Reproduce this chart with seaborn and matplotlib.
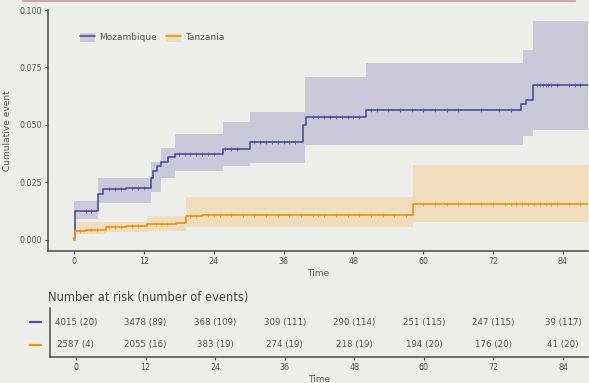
import numpy as np
import pandas as pd
import seaborn as sns
import matplotlib.pyplot as plt
from matplotlib.lines import Line2D
from matplotlib.patches import Patch

# Cumulative incidence step curves (months, cumulative event)
moz_t = [0, 0.2, 4.2, 5.0, 9.0, 13.2, 13.6, 14.2, 15.0, 16.2, 17.3, 25.6, 30.2, 39.4, 39.8, 50.2, 76.8, 77.6, 78.8, 88.3]
moz_v = [0.001, 0.0127, 0.020, 0.022, 0.0225, 0.027, 0.030, 0.032, 0.034, 0.036, 0.0375, 0.0395, 0.0428, 0.050, 0.0536, 0.0565, 0.059, 0.061, 0.0674, 0.0674]
moz_band_t = [0, 4.2, 13.2, 15.0, 17.3, 25.6, 30.2, 39.6, 50.2, 77.2, 78.8, 88.3]
moz_lo = [0.009, 0.016, 0.021, 0.027, 0.030, 0.032, 0.0333, 0.0413, 0.0415, 0.045, 0.0478, 0.0478]
moz_hi = [0.017, 0.027, 0.034, 0.040, 0.046, 0.0514, 0.0558, 0.071, 0.0768, 0.0826, 0.0953, 0.0953]
moz_cens = [2, 3, 6, 7, 8, 10, 11, 12, 18, 19, 20, 21, 22, 23, 24, 26, 27, 28, 31, 32, 33, 34, 35, 36,
            37, 38, 41, 42, 43, 44, 45, 46, 47, 48, 49, 51, 52, 54, 56, 58, 60, 62, 64, 66, 70, 73, 75,
            79.5, 80, 80.5, 81, 81.5, 82, 83, 85, 86, 87]

tza_t = [0, 0.2, 2.0, 5.5, 9.0, 12.5, 17.5, 19.3, 22.0, 58.2, 88.3]
tza_v = [0.0, 0.004, 0.0045, 0.0055, 0.006, 0.0068, 0.0075, 0.0105, 0.0107, 0.0155, 0.0155]
tza_band_t = [0, 5.5, 12.5, 19.3, 58.2, 88.3]
tza_lo = [0.0025, 0.0035, 0.004, 0.0058, 0.008, 0.008]
tza_hi = [0.008, 0.008, 0.0105, 0.0188, 0.0326, 0.0326]
tza_cens = [1, 3, 4, 6, 7, 8, 10, 11, 14, 15, 16, 20, 21, 23, 24, 25, 27, 29, 31, 33, 35, 37, 39,
            41, 42, 43, 45, 47, 49, 51, 53, 55, 57, 60, 62, 64, 66, 68, 70, 72, 74, 75, 76, 77, 78,
            79, 80, 81, 82, 83, 85, 87]

# Number-at-risk table
risk_times = [0, 12, 24, 36, 48, 60, 72, 84]
moz_risk = [4015, 3478, 368, 309, 290, 251, 247, 39]
moz_events = [20, 89, 109, 111, 114, 115, 115, 117]
tza_risk = [2587, 2055, 383, 274, 218, 194, 176, 41]
tza_events = [4, 16, 19, 19, 19, 20, 20, 20]

groups = ["Mozambique", "Tanzania"]
line_cols = {"Mozambique": "#4f4d98", "Tanzania": "#e8940f"}
band_cols = {"Mozambique": "#c9c9da", "Tanzania": "#f1dcbb"}
bg = "#eceeea"
axis_col = "#4a4a4a"
text_col = "#555555"

sns.set_theme(style="white")
plt.rcParams["font.family"] = ["DejaVu Sans"]

W, H = 589, 383
fig = plt.figure(figsize=(W / 100, H / 100), dpi=100, facecolor=bg)


def fx(px):
    return px / W


def fy(py):
    return 1 - py / H


xlim = (-4.47, 88.3)
ax = fig.add_axes([fx(48), fy(251), fx(588) - fx(48), fy(10) - fy(251)])
ax.set_facecolor(bg)


def step_lookup(t, v, pts):
    idx = np.searchsorted(np.asarray(t), np.asarray(pts), side="right") - 1
    return np.asarray(v)[idx]


series = {
    "Mozambique": (moz_t, moz_v, moz_band_t, moz_lo, moz_hi, moz_cens),
    "Tanzania": (tza_t, tza_v, tza_band_t, tza_lo, tza_hi, tza_cens),
}

for g in groups:
    t, v, bt, lo, hi, cens = series[g]
    ax.fill_between(bt, lo, hi, step="post", color=band_cols[g], linewidth=0, zorder=1)

for g in groups:
    t, v, bt, lo, hi, cens = series[g]
    df = pd.DataFrame({"time": t, "cum": v})
    sns.lineplot(data=df, x="time", y="cum", drawstyle="steps-post", estimator=None,
                 color=line_cols[g], linewidth=1.2, ax=ax, zorder=3)
    cdf = pd.DataFrame({"time": cens, "cum": step_lookup(t, v, cens)})
    sns.scatterplot(data=cdf, x="time", y="cum", marker="+", s=7, linewidth=0.6,
                    color=line_cols[g], alpha=0.8, ax=ax, zorder=4)

ax.set_xlim(*xlim)
ax.set_ylim(-0.0048, 0.1)
ax.set_xticks(risk_times)
ax.set_yticks([0.0, 0.025, 0.05, 0.075, 0.1])
ax.set_yticklabels(["0.000", "0.025", "0.050", "0.075", "0.100"])
ax.set_xlabel("Time", fontsize=6.5, color=text_col, labelpad=2)
ax.set_ylabel("Cumulative event", fontsize=6.5, color=text_col, labelpad=5)
for s in ["top", "right"]:
    ax.spines[s].set_visible(False)
for s in ["left", "bottom"]:
    ax.spines[s].set_color(axis_col)
    ax.spines[s].set_linewidth(1.1)
ax.tick_params(axis="both", length=2.5, width=0.8, color=axis_col, labelsize=5.8,
               labelcolor=text_col, pad=2, left=True, bottom=True)

handles = [
    (Patch(facecolor=band_cols[g], edgecolor="none"), Line2D([], [], color=line_cols[g], lw=1.2))
    for g in groups
]
ax.legend(handles, groups, loc="upper left", bbox_to_anchor=(0.045, 0.94), ncol=2,
          frameon=False, fontsize=6.5, handlelength=1.6, handleheight=1.2,
          columnspacing=1.0, handletextpad=0.5, labelcolor=text_col)

# Number-at-risk table
tab = fig.add_axes([fx(50), fy(357), fx(588) - fx(50), fy(308) - fy(357)])
tab.set_facecolor(bg)
tab.set_xlim(*xlim)
tab.set_ylim(0, 1)
rows = [
    ("Mozambique", moz_risk, moz_events, 0.714),
    ("Tanzania", tza_risk, tza_events, 0.245),
]
for g, risk, ev, yr in rows:
    for tt, r, e in zip(risk_times, risk, ev):
        tab.text(tt, yr, f"{r} ({e})", ha="center", va="center", fontsize=6.2, color=text_col)
tab.set_xticks(risk_times)
tab.set_yticks([])
tab.set_xlabel("Time", fontsize=6.5, color=text_col, labelpad=2)
for s in ["top", "right"]:
    tab.spines[s].set_visible(False)
for s in ["left", "bottom"]:
    tab.spines[s].set_color(axis_col)
    tab.spines[s].set_linewidth(1.1)
tab.tick_params(axis="x", length=2.5, width=0.8, color=axis_col, labelsize=5.8,
                labelcolor=text_col, pad=2, bottom=True)

fig.text(fx(48), fy(297), "Number at risk (number of events)", fontsize=8.3,
         color="#444444", ha="left", va="center")

for g, yp in [("Mozambique", 322), ("Tanzania", 345)]:
    fig.add_artist(Line2D([fx(30), fx(41)], [fy(yp), fy(yp)], color=line_cols[g], lw=1.6))

# thin border strip along the top
fig.add_artist(Line2D([fx(23), fx(575)], [fy(1.2), fy(1.2)], color="#d9a3ab", lw=1.6))

fig.savefig("out.png", dpi=100, facecolor=bg)
